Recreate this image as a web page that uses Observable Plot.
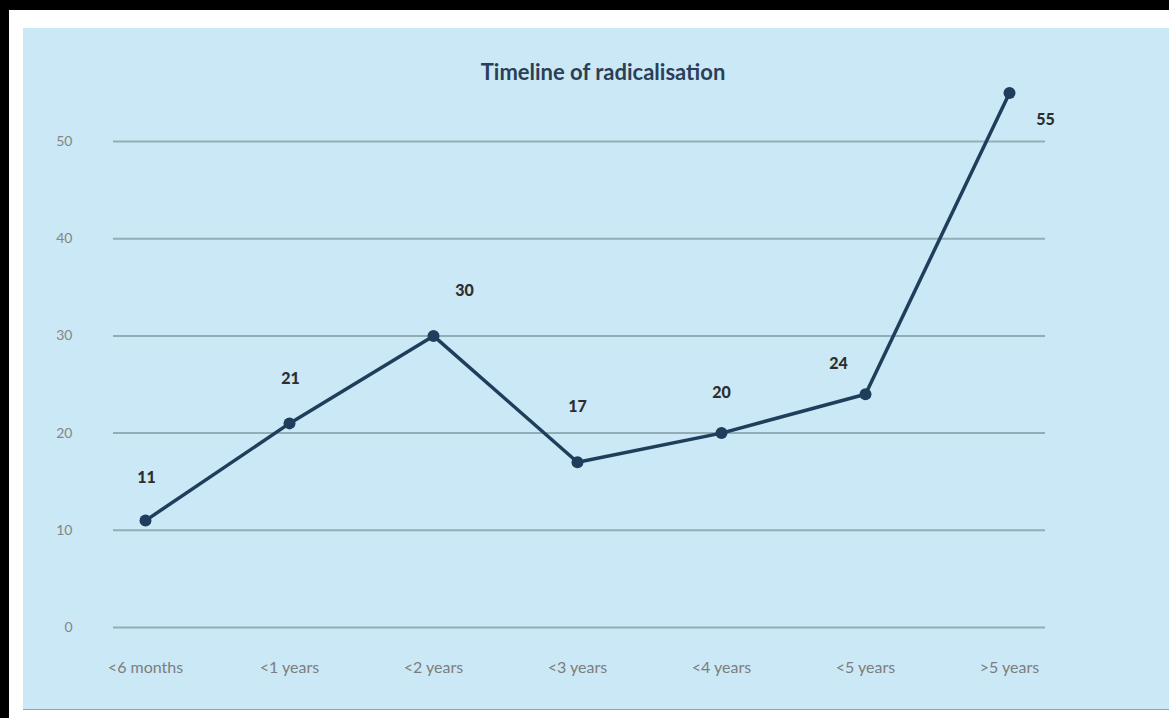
<!DOCTYPE html>
<html>
<head>
<meta charset="utf-8">
<script src="https://cdn.jsdelivr.net/npm/d3@7"></script>
<script src="https://cdn.jsdelivr.net/npm/@observablehq/plot@0.6"></script>
<style>
  html, body { margin: 0; padding: 0; background: #fff; width: 1169px; height: 718px; overflow: hidden; position: relative; }
  .blk { position: absolute; background: #000; }
  #panel { position: absolute; left: 23px; top: 28px; width: 1146px; height: 681px; background: #cae8f5; border-bottom: 1.5px solid #8fa7b3; }
  #title { position: absolute; left: 0; top: 30px; width: 1160px; text-align: center; font-family: Lato, "Open Sans", sans-serif; font-weight: 700; font-size: 22px; color: #2b3f58; }
  #chart { position: absolute; left: 0; top: 0; }
</style>
</head>
<body>
<div class="blk" style="left:0;top:0;width:1169px;height:10px"></div>
<div class="blk" style="left:0;top:0;width:9px;height:718px"></div>
<div id="panel">
  <div id="title">Timeline of radicalisation</div>
  <div id="chart"></div>
</div>
<script>
const categories = ["<6 months", "<1 years", "<2 years", "<3 years", "<4 years", "<5 years", ">5 years"];
const values = [11, 21, 30, 17, 20, 24, 55];
const yTicks = [0, 10, 20, 30, 40, 50];

// label placement (styling only)
const labelDx = [1, 1, 31, 0, 0, -27, 36];
const labelDy = [-43, -45, -45, -55, -40, -30, 27];

const data = categories.map((c, i) => ({category: c, value: values[i]}));

const font = "Lato, 'Open Sans', sans-serif";
const chart = Plot.plot({
  width: 1146,
  height: 681,
  marginLeft: 90,
  marginRight: 124,
  marginTop: 113,
  marginBottom: 82,
  style: {background: "transparent", fontFamily: font, overflow: "visible"},
  x: {type: "point", domain: categories, padding: 0, insetLeft: 32, insetRight: 36, label: null},
  y: {domain: [0, 50], label: null},
  marks: [
    Plot.ruleY(yTicks, {stroke: "#93adb7", strokeWidth: 2}),
    Plot.axisY(yTicks, {tickSize: 0, tickPadding: 41, fontSize: 14, fill: "#858585", label: null}),
    Plot.axisX({tickSize: 0, tickPadding: 34, fontSize: 16, fill: "#7d7d7d", label: null}),
    Plot.line(data, {x: "category", y: "value", stroke: "#1f3e5c", strokeWidth: 3.5}),
    Plot.dot(data, {x: "category", y: "value", r: 6, fill: "#1f3e5c", stroke: "none"}),
    ...data.map((d, i) => Plot.text([d], {
      x: "category", y: "value", text: d => String(d.value),
      dx: labelDx[i], dy: labelDy[i], fontSize: 16, fontWeight: 900, fill: "#2e2e2e"
    }))
  ]
});
document.getElementById("chart").appendChild(chart);
</script>
</body>
</html>
